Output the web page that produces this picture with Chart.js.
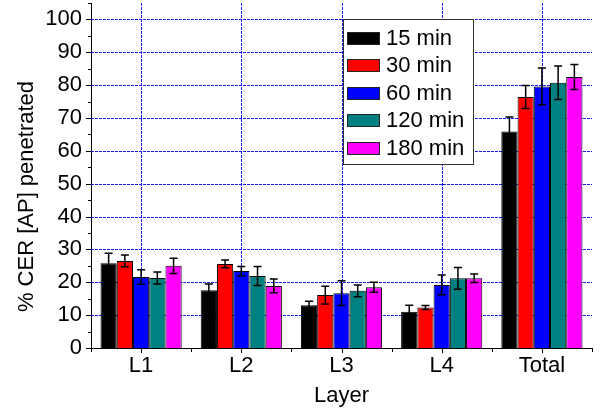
<!DOCTYPE html>
<html>
<head>
<meta charset="utf-8">
<script src="https://cdn.jsdelivr.net/npm/chart.js@4.4.1/dist/chart.umd.min.js"></script>
<style>
  html, body { margin: 0; padding: 0; background: #fff; }
  #wrap { width: 604px; height: 412px; }
</style>
</head>
<body>
<div id="wrap"><canvas id="chart" width="604" height="412"></canvas></div>
<script>
// ── Data ──────────────────────────────────────────
const categories = ['L1', 'L2', 'L3', 'L4', 'Total'];
const seriesLabels = ['15 min', '30 min', '60 min', '120 min', '180 min'];
const seriesColors = ['#000000', '#ff0000', '#0000ff', '#008080', '#ff00ff'];

const mean15  = [25.8, 17.6, 13.0, 11.0, 65.9];
const mean30  = [26.5, 25.6, 16.1, 12.3, 76.4];
const mean60  = [21.6, 23.4, 16.7, 19.2, 79.6];
const mean120 = [21.3, 21.9, 17.4, 21.2, 80.7];
const mean180 = [25.0, 18.9, 18.5, 21.2, 82.5];

const err15  = [3.0, 1.9, 1.2, 2.0, 4.4];
const err30  = [1.8, 1.2, 2.7, 0.6, 3.5];
const err60  = [2.2, 1.4, 3.8, 3.0, 5.6];
const err120 = [1.8, 2.9, 1.8, 3.3, 5.1];
const err180 = [2.3, 2.1, 1.5, 1.3, 3.8];

const yTicks = [0, 10, 20, 30, 40, 50, 60, 70, 80, 90, 100];

const means = [mean15, mean30, mean60, mean120, mean180];
const errors = [err15, err30, err60, err120, err180];

const FONT = "'Liberation Sans', Arial, Helvetica, sans-serif";
const GRID_BLUE = '#1a1aff';

// ── Plugins ─────────────────────────────────────

// dashed blue grid: horizontal at labelled values, vertical at category centres
const blueGrid = {
  id: 'blueGrid',
  beforeDatasetsDraw(chart) {
    const { ctx, chartArea: a } = chart;
    const x = chart.scales.x, y = chart.scales.y;
    ctx.save();
    ctx.strokeStyle = GRID_BLUE;
    ctx.lineWidth = 1;
    ctx.setLineDash([3, 1]);
    ctx.beginPath();
    yTicks.filter((v) => v > 0).forEach((v) => {
      const py = Math.round(y.getPixelForValue(v)) + 0.5;
      ctx.moveTo(a.left, py); ctx.lineTo(a.right, py);
    });
    categories.forEach((c, i) => {
      const px = Math.round(x.getPixelForValue(i)) + 0.5;
      ctx.moveTo(px, a.top); ctx.lineTo(px, a.bottom);
    });
    ctx.stroke();
    ctx.restore();
  }
};

// error bars, drawn on top of each bar from the error arrays
const errorBars = {
  id: 'errorBars',
  afterDatasetsDraw(chart) {
    const { ctx } = chart;
    const y = chart.scales.y;
    ctx.save();
    ctx.strokeStyle = '#000';
    ctx.lineWidth = 1.5;
    chart.data.datasets.forEach((ds, di) => {
      const meta = chart.getDatasetMeta(di);
      meta.data.forEach((bar, i) => {
        const v = ds.data[i], e = errors[di][i];
        const top = y.getPixelForValue(v + e);
        const bot = y.getPixelForValue(v - e);
        ctx.beginPath();
        ctx.moveTo(bar.x, top); ctx.lineTo(bar.x, bot);
        ctx.moveTo(bar.x - 4, top); ctx.lineTo(bar.x + 4, top);
        ctx.moveTo(bar.x - 4, bot); ctx.lineTo(bar.x + 4, bot);
        ctx.stroke();
      });
    });
    ctx.restore();
  }
};

// outward tick marks: major/minor on y, centre/boundary on x, plus y title
const axisExtras = {
  id: 'axisExtras',
  afterDraw(chart) {
    const { ctx, chartArea: a } = chart;
    const x = chart.scales.x, y = chart.scales.y;
    ctx.save();
    ctx.strokeStyle = '#000';
    ctx.lineWidth = 1;
    ctx.beginPath();
    for (let v = 0; v <= 105; v += 5) {
      const py = Math.round(y.getPixelForValue(v)) + 0.5;
      const len = v % 10 === 0 ? 5 : 3;
      ctx.moveTo(a.left - len, py); ctx.lineTo(a.left, py);
    }
    categories.forEach((c, i) => {
      const px = Math.round(x.getPixelForValue(i)) + 0.5;
      ctx.moveTo(px, a.bottom); ctx.lineTo(px, a.bottom + 5);
    });
    for (let i = 0; i <= categories.length; i++) {
      const px = Math.round(x.getPixelForValue(i - 0.5)) + 0.5;
      ctx.moveTo(px, a.bottom); ctx.lineTo(px, a.bottom + 4);
    }
    ctx.stroke();

    // y axis title
    ctx.translate(27, (a.top + a.bottom) / 2 + 21);
    ctx.rotate(-Math.PI / 2);
    ctx.font = `22px ${FONT}`;
    ctx.fillStyle = '#000';
    ctx.textAlign = 'center';
    ctx.textBaseline = 'middle';
    ctx.fillText('% CER [AP] penetrated', 0, 0);
    ctx.restore();
  }
};

// boxed legend inside the plot, upper middle
const boxLegend = {
  id: 'boxLegend',
  afterDraw(chart) {
    const { ctx } = chart;
    const box = { x: 343.5, y: 19.5, w: 130, h: 145 };
    ctx.save();
    ctx.fillStyle = '#fff';
    ctx.fillRect(box.x, box.y, box.w, box.h);
    ctx.strokeStyle = '#333';
    ctx.lineWidth = 1;
    ctx.strokeRect(box.x, box.y, box.w, box.h);
    ctx.font = `22px ${FONT}`;
    ctx.textBaseline = 'middle';
    seriesLabels.forEach((lbl, i) => {
      const cy = 37.5 + i * 27.6;
      ctx.fillStyle = seriesColors[i];
      ctx.fillRect(347.5, Math.round(cy - 6) + 0.5, 32, 12);
      ctx.strokeStyle = '#222';
      ctx.strokeRect(347.5, Math.round(cy - 6) + 0.5, 32, 12);
      ctx.fillStyle = '#000';
      ctx.fillText(lbl, 386, cy + 1);
    });
    ctx.restore();
  }
};

// ── Chart ───────────────────────────────────────

const datasets = means.map((m, i) => ({
  label: seriesLabels[i],
  data: m,
  backgroundColor: seriesColors[i],
  borderColor: '#000',
  borderWidth: 1,
  borderSkipped: 'start',
  categoryPercentage: 0.81,
  barPercentage: 1.0,
}));

new Chart(document.getElementById('chart'), {
  type: 'bar',
  data: { labels: categories, datasets },
  options: {
    responsive: false,
    animation: false,
    layout: { padding: { top: 3, right: 12, left: 0, bottom: 0 } },
    plugins: { legend: { display: false }, tooltip: { enabled: false } },
    scales: {
      x: {
        grid: { display: false, drawTicks: false },
        border: { display: true, color: '#000', width: 1 },
        ticks: { color: '#000', padding: 5, font: { family: FONT, size: 22 } },
        title: {
          display: true, text: 'Layer', color: '#000',
          font: { family: FONT, size: 22 }, padding: { top: 0, bottom: 3 },
        },
        afterFit(scale) {
          scale.height = 64;
          scale.paddingLeft = 0; scale.paddingRight = 0;
        },
      },
      y: {
        min: 0, max: 105,
        grid: { display: false, drawTicks: false },
        border: { display: true, color: '#000', width: 1 },
        afterBuildTicks(scale) {
          scale.ticks = yTicks.map((v) => ({ value: v }));
        },
        ticks: {
          autoSkip: false, padding: 9, color: '#000',
          font: { family: FONT, size: 22 },
        },
        afterFit(scale) {
          scale.width = 91;
          scale.paddingTop = 0; scale.paddingBottom = 0;
        },
      },
    },
  },
  plugins: [blueGrid, errorBars, axisExtras, boxLegend],
});
</script>
</body>
</html>
